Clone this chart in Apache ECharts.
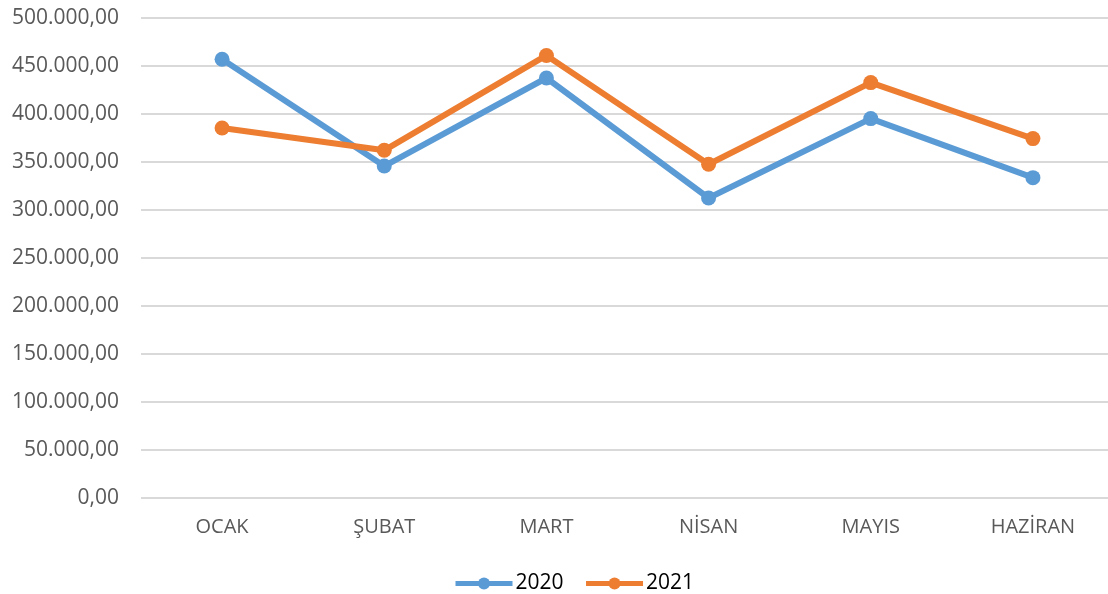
<!DOCTYPE html>
<html>
<head>
<meta charset="utf-8">
<script src="https://cdn.jsdelivr.net/npm/echarts@6/dist/echarts.min.js"></script>
<style>
  html, body { margin: 0; padding: 0; background: #fff; overflow: hidden; }
  /* plot area runs a few px past the right window edge, as in the original */
  #chart { width: 1114px; height: 594px; }
</style>
</head>
<body>
<div id="chart"></div>
<script>
const months = ['OCAK', 'ŞUBAT', 'MART', 'NİSAN', 'MAYIS', 'HAZİRAN'];
const values2020 = [457000, 345800, 437500, 312500, 395200, 333700];
const values2021 = [385400, 362200, 461000, 347600, 432700, 374400];

const fontFamily = '"Open Sans", sans-serif';

// 500000 -> "500.000,00"
function trNumber(v) {
    let s = String(Math.round(v)).replace(/\B(?=(\d{3})+(?!\d))/g, '.');
    return s + ',00';
}

const lineSeries = (name, data, color) => ({
    name: name,
    type: 'line',
    data: data,
    symbol: 'circle',
    symbolSize: 15,
    lineStyle: { width: 6, color: color },
    itemStyle: { color: color },
    emphasis: { disabled: true }
});

const option = {
    animation: false,
    textStyle: { fontFamily: fontFamily },
    grid: {
        left: 141,
        top: 18,
        right: 0,
        height: 480,
        containLabel: false
    },
    legend: {
        top: 568,
        left: 448,
        itemWidth: 57,
        itemHeight: 15,
        itemGap: 20,
        lineStyle: { width: 5 },
        textStyle: { fontSize: 21, color: '#000', fontFamily: fontFamily, padding: [0, 0, 0, -2] },
        data: ['2020', '2021']
    },
    xAxis: {
        type: 'category',
        data: months,
        boundaryGap: true,
        axisLine: { show: false },
        axisTick: { show: false },
        axisLabel: { color: '#595959', fontSize: 20, margin: 19 }
    },
    yAxis: {
        type: 'value',
        min: 0,
        max: 500000,
        interval: 50000,
        axisLine: { show: false },
        axisTick: { show: false },
        axisLabel: {
            color: '#595959',
            fontSize: 21,
            margin: 22,
            formatter: trNumber
        },
        splitLine: { lineStyle: { color: '#d9d9d9', width: 2 } }
    },
    series: [
        lineSeries('2020', values2020, '#5b9bd5'),
        lineSeries('2021', values2021, '#ed7d31')
    ]
};

echarts.init(document.getElementById('chart')).setOption(option);
</script>
</body>
</html>
